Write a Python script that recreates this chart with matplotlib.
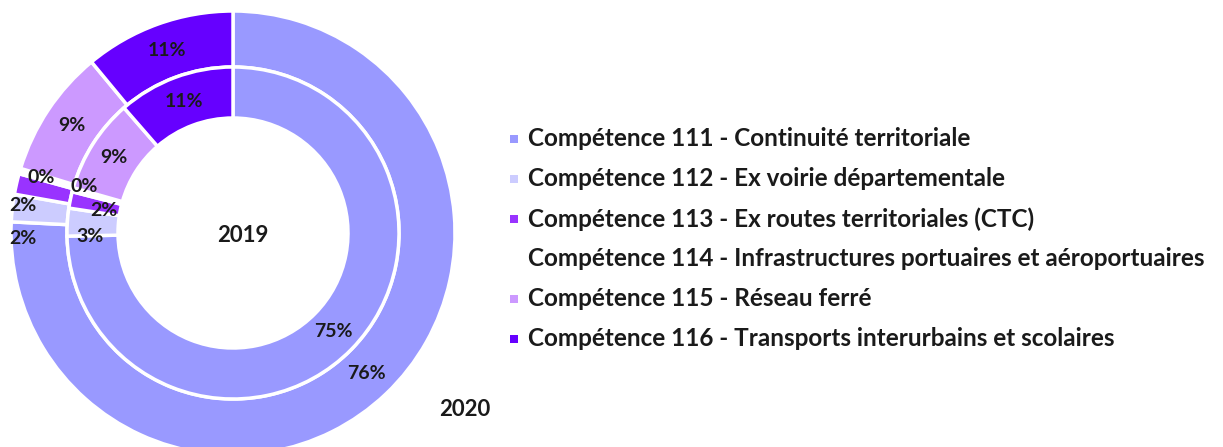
import matplotlib.pyplot as plt
from matplotlib.patches import Rectangle
import numpy as np

categories = [
    "Compétence 111 - Continuité territoriale",
    "Compétence 112 - Ex voirie départementale",
    "Compétence 113 - Ex routes territoriales (CTC)",
    "Compétence 114 - Infrastructures portuaires et aéroportuaires",
    "Compétence 115 - Réseau ferré",
    "Compétence 116 - Transports interurbains et scolaires",
]
colors = ["#9999FF", "#CCCCFF", "#9933FF", "#FFFFFF", "#CC99FF", "#6600FF"]

# shares in %
values_2020 = [75.8, 2.0, 1.5, 0.4, 9.3, 11.0]
values_2019 = [74.7, 2.7, 1.6, 0.4, 9.2, 11.4]

W, H = 1223, 447
R = 222  # outer radius in px
cx, cy = 233, 233  # centre in px from top-left

plt.rcParams['font.family'] = ['Lato', 'DejaVu Sans']

fig = plt.figure(figsize=(W / 100, H / 100), dpi=100)
ax = fig.add_axes([(cx - R) / W, (H - cy - R) / H, 2 * R / W, 2 * R / H])

r_mid = 166 / R
r_in = 115 / R
rings = [
    (values_2020, 1.0, 1.0 - r_mid),
    (values_2019, r_mid, r_mid - r_in),
]
# label nudges (px, right / down) for the crowded small slices
nudges = [
    {1: (-17, 27), 2: (-21, 15), 3: (-6, -1)},
    {1: (-3, 13), 2: (9, 6), 3: (-13, -10)},
]

for k, (vals, rad, wid) in enumerate(rings):
    wedges, _ = ax.pie(vals, radius=rad, startangle=90, counterclock=False,
                       colors=colors,
                       wedgeprops=dict(width=wid, edgecolor='white', linewidth=2.5))
    for i, (w, v) in enumerate(zip(wedges, vals)):
        th = np.deg2rad((w.theta1 + w.theta2) / 2)
        rr = rad - wid / 2
        dx, dy = nudges[k].get(i, (0, 0))
        ax.annotate(f"{v:.0f}%", (rr * np.cos(th), rr * np.sin(th)),
                    xytext=(dx * 0.72, -dy * 0.72), textcoords='offset points',
                    ha='center', va='center', fontsize=14, fontweight='bold',
                    color='#1a1a1a')

ax.set_xlim(-1, 1)
ax.set_ylim(-1, 1)
ax.set_aspect('equal')
ax.axis('off')

ax.text(10 / R, -3 / R, "2019", ha='center', va='center', fontsize=16,
        fontweight='bold', color='#1a1a1a')
fig.text(465 / W, 1 - 410 / H, "2020", ha='center', va='center', fontsize=16,
         fontweight='bold', color='#1a1a1a')

# legend
for i, (lab, col) in enumerate(zip(categories, colors)):
    y = 139 + 40 * i
    fig.add_artist(Rectangle((510 / W, 1 - (y + 4) / H), 8 / W, 8 / H,
                             transform=fig.transFigure, facecolor=col,
                             edgecolor='none'))
    fig.text(528 / W, 1 - y / H, lab, ha='left', va='center', fontsize=17.5,
             fontweight='bold', color='#1a1a1a')

fig.savefig("out.png", dpi=100)
